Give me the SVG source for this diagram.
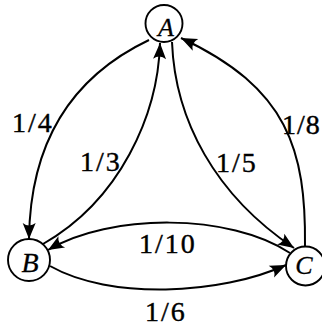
<svg xmlns="http://www.w3.org/2000/svg" width="322" height="329" viewBox="0 0 322 329">
<style>
.node circle{fill:#fff;stroke:#000;stroke-width:1.9}
.node text{font-family:'Liberation Serif','DejaVu Serif',serif;font-style:italic;text-anchor:middle;fill:#000;stroke:#000;stroke-width:0.3}
.edge{fill:none;stroke:#000;stroke-width:2;marker-end:url(#arr)}
.lbl{font-family:'Liberation Serif','DejaVu Serif',serif;font-size:28px;letter-spacing:2px;fill:#000;stroke:#000;stroke-width:0.4}
</style>
<defs>
<marker id="arr" markerUnits="userSpaceOnUse" viewBox="-17 -8 19 16" refX="0" refY="0" markerWidth="19" markerHeight="16" orient="auto">
<path d="M0,0 L-16,-6.5 Q-11,0 -16,6.5 Z" fill="#000"/>
</marker>
</defs>
<g id="connectors">
<path class="edge" d="M149,40 C65,80 30,150 29,239"/>
<path class="edge" d="M43,244 C120,200 158,115 160,43"/>
<path class="edge" d="M172,42 C175,120 215,195 294,248"/>
<path class="edge" d="M305,246 C306,150 288,88 181,38"/>
<path class="edge" d="M290,253 C230,213 110,213 48,250"/>
<path class="edge" d="M50,266 C110,300 220,295 286,265"/>
</g>
<g id="labels">
<text class="lbl" x="12" y="132">1/4</text>
<text class="lbl" x="80" y="171">1/3</text>
<text class="lbl" x="216" y="172">1/5</text>
<text class="lbl" x="282" y="134" style="letter-spacing:1px">1/8</text>
<text class="lbl" x="139" y="253">1/10</text>
<text class="lbl" x="145" y="321">1/6</text>
</g>
<g id="A" class="node"><circle cx="164" cy="23.5" r="18.5"/><text x="166" y="36" font-size="26">A</text></g>
<g id="B" class="node"><circle cx="29" cy="260" r="21"/><text x="30" y="272" font-size="28">B</text></g>
<g id="C" class="node"><circle cx="305.5" cy="266" r="19.5"/><text x="304" y="274" font-size="26">C</text></g>
</svg>
